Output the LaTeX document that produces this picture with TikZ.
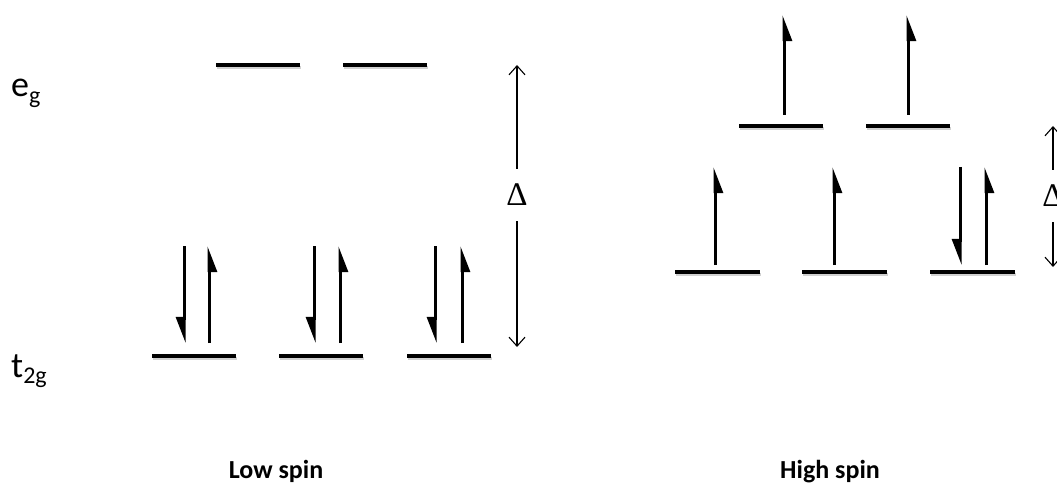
\documentclass[tikz,border=0pt]{standalone}
\usepackage{fontspec}
\setmainfont{Carlito}
\newfontfamily\deltafont{Liberation Serif}
\usetikzlibrary{arrows.meta}
\begin{document}
\begin{tikzpicture}[x=1pt,y=-1pt,
  level/.style={line width=3.4pt},
  levelshade/.style={line width=3pt,black!18},
  spin/.style={line width=3pt,-{Triangle[harpoon,swap,length=22pt,width=16pt]}},
  gap/.style={line width=1.1pt,-{Straight Barb[length=9pt,width=16pt,line width=1.1pt]}},
  gaplabel/.style={inner sep=0pt,minimum height=52pt,font=\deltafont\fontsize{33}{33}\selectfont},
  term/.style={anchor=base west,inner sep=0pt,font=\fontsize{36}{36}\selectfont},
  caption/.style={anchor=base,inner sep=0pt,font=\fontsize{26}{26}\selectfont\bfseries}]
\useasboundingbox (0,0) rectangle (1057,489);

% energy level bars: {x-left/x-right/y}
\foreach \xa/\xb/\y in {216/300/65, 343/427/65,
                        152/236/356, 279/363/356, 407/491/356,
                        739/823/126, 866/950/126,
                        675/760/272, 802/887/272, 930/1015/272}{
  \draw[levelshade] (\xa+1,\y+2.5) -- (\xb+1,\y+2.5);
  \draw[level] (\xa,\y) -- (\xb,\y);
}

% paired electrons, low spin t2g
\foreach \xd/\xu in {184/209, 314/340, 435/462}{
  \draw[spin] (\xd,246) -- (\xd,343);
  \draw[spin] (\xu,343) -- (\xu,246);
}

% unpaired electrons, high spin
\foreach \x in {784, 908}{ \draw[spin] (\x,115) -- (\x,15); }
\foreach \x in {715, 834, 986}{ \draw[spin] (\x,265) -- (\x,167); }
\draw[spin] (960,167) -- (960,265);

% splitting energy, low spin
\node[gaplabel] (dL) at (517,195) {Δ};
\coordinate (dLtop) at (517,65);
\coordinate (dLbot) at (517,347);
\draw[gap] (dL.north) -- (dLtop);
\draw[gap] (dL.south) -- (dLbot);

% splitting energy, high spin
\node[gaplabel] (dH) at (1053,196) {Δ};
\coordinate (dHtop) at (1053,126);
\coordinate (dHbot) at (1053,267);
\draw[gap] (dH.north) -- (dHtop);
\draw[gap] (dH.south) -- (dHbot);

% orbital set labels
\node[term] (eg) at (11,97) {e\raisebox{-7pt}{\fontsize{24}{24}\selectfont g}};
\node[term] (t2g) at (11,377) {t\raisebox{-6pt}{\fontsize{24}{24}\selectfont 2g}};

% captions
\node[caption] (low) at (276,478) {Low spin};
\node[caption] (high) at (830,478) {High spin};
\end{tikzpicture}
\end{document}
